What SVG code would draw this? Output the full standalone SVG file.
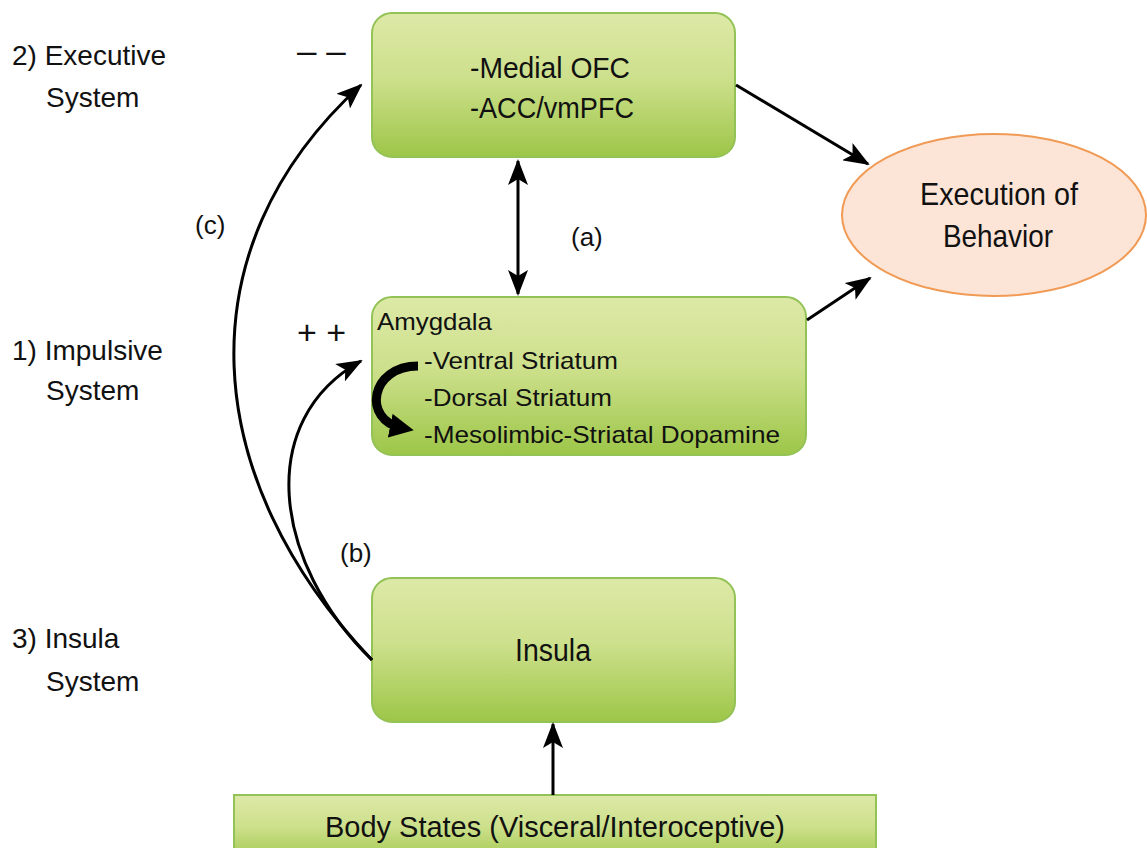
<svg xmlns="http://www.w3.org/2000/svg" width="1147" height="848" viewBox="0 0 1147 848">
<defs>
<linearGradient id="g" x1="0" y1="0" x2="0" y2="1">
<stop offset="0" stop-color="#dde9a7"/>
<stop offset="0.45" stop-color="#cde08c"/>
<stop offset="1" stop-color="#9dc648"/>
</linearGradient>
<marker id="ah" markerUnits="userSpaceOnUse" markerWidth="26" markerHeight="20" refX="24" refY="10" orient="auto-start-reverse" viewBox="0 0 26 20">
<path d="M0,0 L26,10 L0,20 L6,10 Z" fill="#000"/>
</marker>
<marker id="ah2" markerUnits="userSpaceOnUse" markerWidth="24" markerHeight="24" refX="12" refY="12" orient="auto" viewBox="0 0 24 24">
<path d="M0,0 L24,12 L0,24 Z" fill="#000"/>
</marker>
</defs>
<style>
.box{fill:url(#g);stroke:#93c256;stroke-width:2}
.t{font-family:"Liberation Sans Narrow","Liberation Sans",Arial,sans-serif;fill:#111}
.lbl{font-family:"Liberation Sans",Arial,sans-serif;font-size:28px;fill:#111}
.c{fill:none;stroke:#000;stroke-width:3}
</style>
<rect width="1147" height="848" fill="#fff"/>

<g id="labels">
<text class="lbl" x="12" y="65">2) Executive</text>
<text class="lbl" x="46" y="107">System</text>
<text class="lbl" x="12" y="360">1) Impulsive</text>
<text class="lbl" x="46" y="400">System</text>
<text class="lbl" x="12" y="648">3) Insula</text>
<text class="lbl" x="46" y="691">System</text>
<text class="lbl" x="195" y="234" style="font-size:26px">(c)</text>
<text class="lbl" x="571" y="246" style="font-size:26px">(a)</text>
<text class="lbl" x="340" y="562" style="font-size:26px">(b)</text>
<text class="lbl" x="297" y="63" style="font-size:35px">– –</text>
<text class="lbl" x="297" y="344" style="font-size:34px">+ +</text>
</g>

<g id="executive">
<rect class="box" x="372" y="13" width="363" height="144" rx="20"/>
<text class="t" x="470" y="78" font-size="30" textLength="160" lengthAdjust="spacingAndGlyphs">-Medial OFC</text>
<text class="t" x="470" y="118" font-size="30" textLength="164" lengthAdjust="spacingAndGlyphs">-ACC/vmPFC</text>
</g>

<g id="impulsive">
<rect class="box" x="372" y="297" width="434" height="158" rx="20"/>
<text class="t" x="377" y="330" font-size="24" textLength="115" lengthAdjust="spacingAndGlyphs">Amygdala</text>
<text class="t" x="424" y="369" font-size="24" textLength="194" lengthAdjust="spacingAndGlyphs">-Ventral Striatum</text>
<text class="t" x="424" y="406" font-size="24" textLength="188" lengthAdjust="spacingAndGlyphs">-Dorsal Striatum</text>
<text class="t" x="424" y="443" font-size="24" textLength="356" lengthAdjust="spacingAndGlyphs">-Mesolimbic-Striatal Dopamine</text>
<path d="M418,366 C370,366 362,420 402,428" fill="none" stroke="#000" stroke-width="9" marker-end="url(#ah2)"/>
</g>

<g id="insula">
<rect class="box" x="372" y="578" width="363" height="144" rx="20"/>
<text class="t" x="553" y="661" font-size="31" text-anchor="middle" textLength="76" lengthAdjust="spacingAndGlyphs">Insula</text>
</g>

<g id="body">
<rect class="box" x="234" y="795" width="642" height="70"/>
<text class="t" x="555" y="837" font-size="30" text-anchor="middle" textLength="460" lengthAdjust="spacingAndGlyphs">Body States (Visceral/Interoceptive)</text>
</g>

<g id="execution">
<ellipse cx="994" cy="215" rx="152" ry="81" fill="#fce5d6" stroke="#f09a55" stroke-width="2"/>
<text class="t" x="999" y="205" font-size="32" text-anchor="middle" textLength="158" lengthAdjust="spacingAndGlyphs">Execution of</text>
<text class="t" x="998" y="247" font-size="32" text-anchor="middle" textLength="110" lengthAdjust="spacingAndGlyphs">Behavior</text>
</g>

<g id="connectors">
<path class="c" d="M736,85 L868,164" marker-end="url(#ah)"/>
<path class="c" d="M807,320 L870,278" marker-end="url(#ah)"/>
<path class="c" d="M518,161 L518,294" marker-start="url(#ah)" marker-end="url(#ah)"/>
<path class="c" d="M372,660 C200,480 180,250 361,85" marker-end="url(#ah)"/>
<path class="c" d="M372,660 C272,562 255,420 361,361" marker-end="url(#ah)"/>
<path class="c" d="M553,795 L553,724" marker-end="url(#ah)"/>
</g>
</svg>
